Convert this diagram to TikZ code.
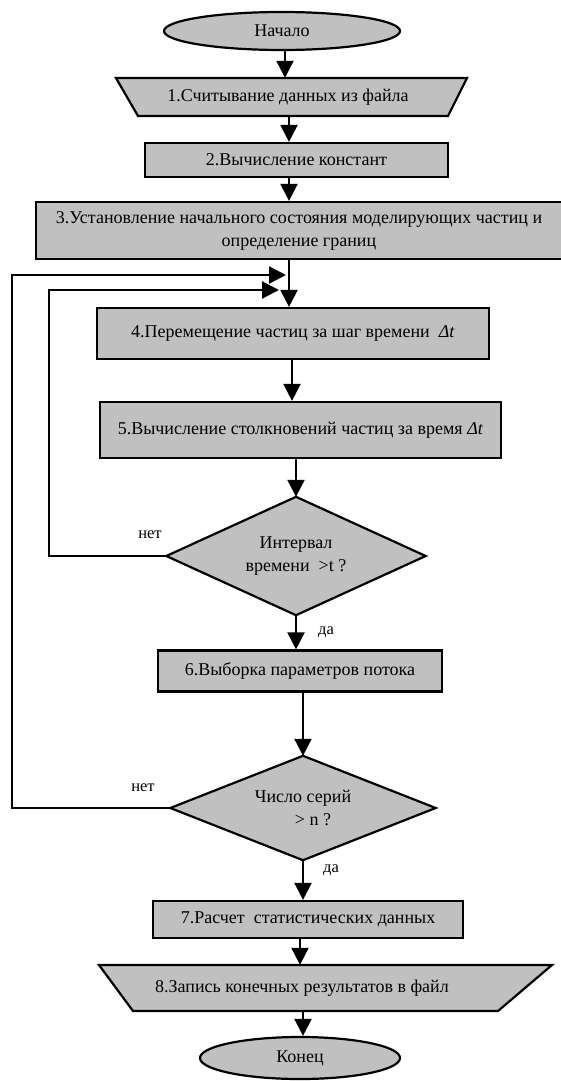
\documentclass[tikz,border=0pt]{standalone}
\usepackage{fontspec}
\setmainfont{Liberation Serif}
\usetikzlibrary{arrows.meta,shapes.geometric}
\definecolor{boxgray}{RGB}{192,192,192}
\pgfdeclarelayer{bg}
\pgfsetlayers{bg,main}
\begin{document}
\begin{tikzpicture}[x=1pt,y=-1pt]
\tikzset{
 txt/.style={font=\fontsize{18}{23}\selectfont, align=center, inner sep=0pt},
 rbox/.style={txt, draw, line width=2.2pt, fill=boxgray},
 oval/.style={txt, ellipse, draw, line width=2.2pt, fill=boxgray},
 shp/.style={draw, line width=2.2pt, fill=boxgray, line join=miter},
 arr/.style={line width=2.2pt, -{Triangle[width=17pt,length=17pt]}},
 lbl/.style={font=\fontsize{16.5}{19}\selectfont, inner sep=0pt},
}
\useasboundingbox (0,0) rectangle (561,1081);

\node[oval, minimum width=236, minimum height=38] (start) at (282,31) {Начало};
\node[txt, minimum height=38] (t1) at (288,97) {1.Считывание данных из файла};
\node[rbox, minimum width=303, minimum height=34] (b2) at (296.5,160) {2.Вычисление констант};
\node[rbox, minimum width=526, minimum height=57] (b3) at (299,230.5) {3.Установление начального состояния моделирующих частиц и\\определение границ};
\node[rbox, minimum width=392, minimum height=51] (b4) at (293,333.5) {4.Перемещение частиц за шаг времени\ \ \textit{Δt}};
\node[rbox, minimum width=401, minimum height=56] (b5) at (300.5,430) {5.Вычисление столкновений частиц за время \textit{Δt}};
\node[txt, minimum width=259, minimum height=118] (d1) at (296,556) {Интервал\\времени\ \ >t ?};
\node[rbox, minimum width=284, minimum height=41] (b6) at (300,671) {6.Выборка параметров потока};
\node[txt, minimum width=265, minimum height=104] (d2) at (303,808) {Число серий\\\hspace*{20pt}> n ?};
\node[rbox, minimum width=310, minimum height=37] (b7) at (308,919.5) {7.Расчет\ \ статистических данных};
\node[txt, minimum height=46] (t8) at (302,988) {8.Запись конечных результатов в файл};
\node[oval, minimum width=200, minimum height=42] (end) at (300,1058) {Конец};

\begin{pgfonlayer}{bg}
\draw[shp] ([shift={(-172,-19)}]t1.center) -- ([shift={(179,-19)}]t1.center) -- ([shift={(160,19)}]t1.center) -- ([shift={(-150,19)}]t1.center) -- cycle;
\draw[shp] (d1.north) -- (d1.east) -- (d1.south) -- (d1.west) -- cycle;
\draw[shp] (d2.north) -- (d2.east) -- (d2.south) -- (d2.west) -- cycle;
\draw[shp] ([shift={(-203,-23)}]t8.center) -- ([shift={(250,-23)}]t8.center) -- ([shift={(196,23)}]t8.center) -- ([shift={(-169,23)}]t8.center) -- cycle;
\end{pgfonlayer}

\draw[arr] ([xshift=3]start.south) -- ([xshift=-3]t1.north);
\draw[arr] ([xshift=1]t1.south) -- ([xshift=-7.5]b2.north);
\draw[arr] ([xshift=-7.5]b2.south) -- ([xshift=-10]b3.north);
\draw[arr] ([xshift=-10]b3.south) -- ([xshift=-4]b4.north);
\draw[arr] ([xshift=-1]b4.south) -- ([xshift=-8.5]b5.north);
\draw[arr] ([xshift=-4.5]b5.south) -- (d1.north);
\draw[arr] (d1.south) -- ([xshift=-4]b6.north);
\draw[arr] ([xshift=3]b6.south) -- (d2.north);
\draw[arr] (d2.south) -- ([xshift=-5]b7.north);
\draw[arr] ([xshift=-8]b7.south) -- ([xshift=-2]t8.north);
\draw[arr] ([xshift=1]t8.south) -- ([xshift=3]end.north);

\coordinate (in1) at (279,290);
\coordinate (in2) at (286,275);
\draw[arr] (d1.west) -- ++(-117.5,0) |- (in1);
\draw[arr] (d2.west) -- ++(-158.5,0) |- (in2);

\node[lbl] (no1) at (150,535) {нет};
\node[lbl] (yes1) at (326,632) {да};
\node[lbl] (no2) at (143,788) {нет};
\node[lbl] (yes2) at (331,870) {да};
\end{tikzpicture}
\end{document}
